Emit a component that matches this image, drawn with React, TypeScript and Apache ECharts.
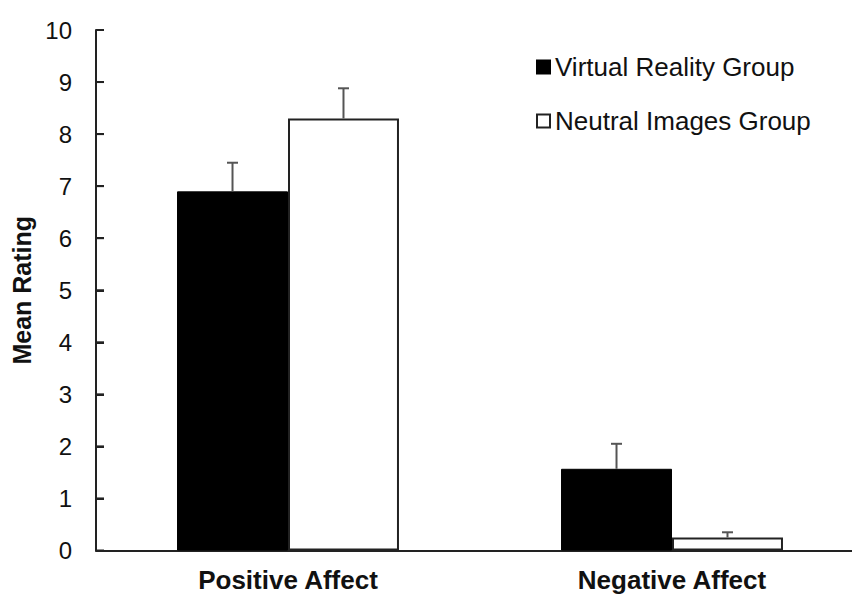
import React, { useEffect, useRef } from "react";
import * as echarts from "echarts";

const categories = ["Positive Affect", "Negative Affect"];
const seriesNames = ["Virtual Reality Group", "Neutral Images Group"];
const vrValues = [6.9, 1.57];
const neutralValues = [8.3, 0.25];
const vrErrors = [0.55, 0.48];
const neutralErrors = [0.58, 0.1];
const yTicks = [0, 10, 1];
const yTickValues = [0, 1, 2, 3, 4, 5, 6, 7, 8, 9, 10];

const FONT = "'Liberation Sans', Arial, sans-serif";
const BAR_FRACTION = 0.289;

function errorSeries(values: number[], errors: number[], side: number) {
  return {
    type: "custom",
    silent: true,
    z: 5,
    data: values.map((v, i) => [i, v, v + errors[i]]),
    renderItem: (params: any, api: any) => {
      const idx = api.value(0);
      const band = api.size([1, 0])[0];
      const off = (side * band * BAR_FRACTION) / 2;
      const p0 = api.coord([idx, api.value(1)]);
      const p1 = api.coord([idx, api.value(2)]);
      const x = p0[0] + off;
      const cap = 5.5;
      const style = { stroke: "#555", lineWidth: 2 };
      return {
        type: "group",
        children: [
          { type: "line", shape: { x1: x, y1: p0[1], x2: x, y2: p1[1] }, style },
          { type: "line", shape: { x1: x - cap, y1: p1[1], x2: x + cap, y2: p1[1] }, style },
        ],
      };
    },
  };
}

const tickSeries = {
  type: "custom",
  silent: true,
  z: 6,
  clip: false,
  data: yTickValues.map((v) => [0, v]),
  renderItem: (params: any, api: any) => {
    const p = api.coord([0, api.value(1)]);
    const band = api.size([1, 0])[0];
    const x0 = p[0] - band / 2;
    return {
      type: "rect",
      shape: { x: x0, y: p[1] - 1, width: 8, height: 2 },
      style: { fill: "#222" },
    };
  },
};

export default function App() {
  const ref = useRef<HTMLDivElement>(null);
  useEffect(() => {
    if (!ref.current) return;
    const chart = echarts.init(ref.current, null, { renderer: "svg" });
    chart.setOption({
      animation: false,
      backgroundColor: "#fff",
      textStyle: { fontFamily: FONT },
      grid: { left: 96, right: 0, top: 30, bottom: 44.5, containLabel: false },
      legend: {
        orient: "vertical",
        left: 531,
        top: 49,
        itemWidth: 13,
        itemHeight: 13,
        itemGap: 28,
        icon: "rect",
        data: seriesNames,
        textStyle: { fontSize: 26, color: "#111", fontFamily: FONT, lineHeight: 26 },
      },
      xAxis: {
        type: "category",
        data: categories,
        axisLine: { show: true, lineStyle: { color: "#222", width: 2 } },
        axisTick: { show: false },
        axisLabel: { fontSize: 26, fontWeight: "bold", color: "#111", margin: 16, fontFamily: FONT },
        splitLine: { show: false },
      },
      yAxis: {
        type: "value",
        min: yTicks[0],
        max: yTicks[1],
        interval: yTicks[2],
        name: "Mean Rating",
        nameLocation: "middle",
        nameRotate: 90,
        nameGap: 62,
        nameTextStyle: { fontSize: 25, fontWeight: "bold", color: "#111", fontFamily: FONT },
        axisLine: { show: true, lineStyle: { color: "#222", width: 2 } },
        axisTick: { show: true, inside: true, length: 8, lineStyle: { color: "#222", width: 2 } },
        axisLabel: { fontSize: 24, color: "#111", margin: 24, fontFamily: FONT },
        splitLine: { show: false },
      },
      series: [
        {
          name: seriesNames[0],
          type: "bar",
          data: vrValues,
          barWidth: BAR_FRACTION * 100 + "%",
          barGap: "0%",
          itemStyle: { color: "#000", borderColor: "#000", borderWidth: 1 },
        },
        {
          name: seriesNames[1],
          type: "bar",
          data: neutralValues,
          barWidth: BAR_FRACTION * 100 + "%",
          barGap: "0%",
          itemStyle: { color: "#fff", borderColor: "#222", borderWidth: 2 },
        },
        errorSeries(vrValues, vrErrors, -1),
        errorSeries(neutralValues, neutralErrors, 1),
        tickSeries,
      ],
    });
    return () => chart.dispose();
  }, []);
  return (
    <div
      style={{ position: "absolute", left: 0, top: 0, width: 852, height: 595, overflow: "hidden", background: "#fff" }}
    >
      <div ref={ref} style={{ width: 864, height: 595 }} />
    </div>
  );
}
